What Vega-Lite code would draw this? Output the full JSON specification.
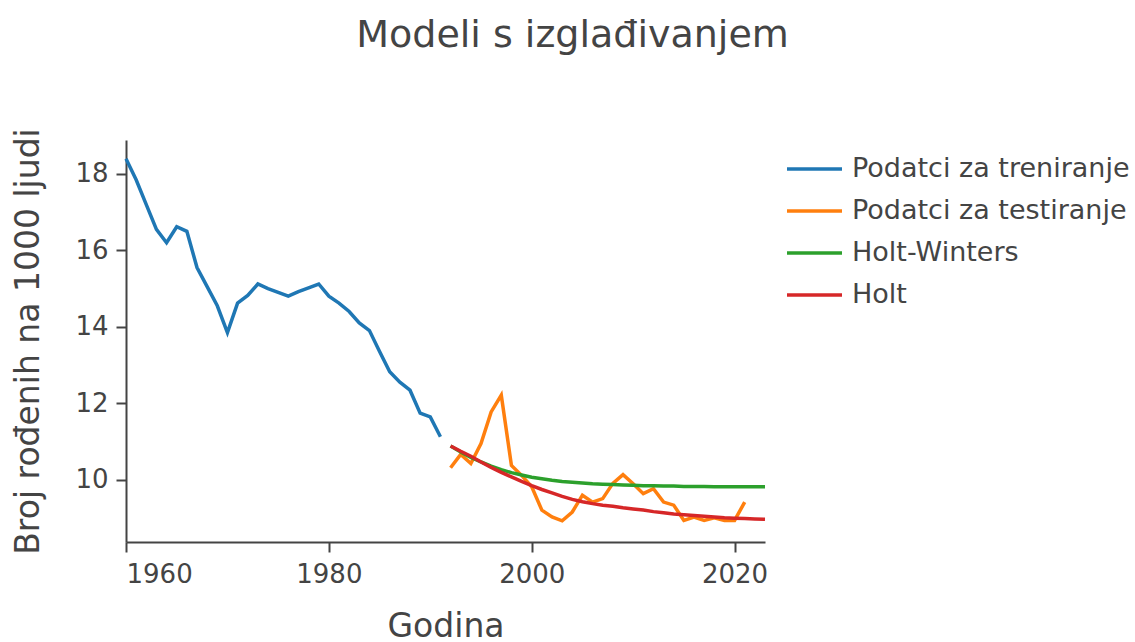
{
  "$schema": "https://vega.github.io/schema/vega-lite/v6.json",
  "width": 639,
  "height": 402,
  "autosize": {"type": "none"},
  "padding": {"left": 126, "top": 140, "right": 370, "bottom": 100},
  "background": "white",
  "title": {
    "text": "Modeli s izglađivanjem",
    "fontSize": 38,
    "font": "DejaVu Sans",
    "fontWeight": "normal",
    "color": "#444",
    "anchor": "middle",
    "dx": 127,
    "baseline": "alphabetic",
    "offset": 43
  },
  "config": {
    "view": {"stroke": null},
    "axis": {
      "grid": false,
      "domainColor": "#444",
      "domainWidth": 2,
      "tickColor": "#444",
      "tickWidth": 2,
      "tickSize": 10,
      "labelFont": "DejaVu Sans",
      "labelFontSize": 26,
      "labelColor": "#444",
      "titleFont": "DejaVu Sans",
      "titleFontSize": 33,
      "titleFontWeight": "normal",
      "titleColor": "#444"
    }
  },
  "data": {
    "values": [
      {"year": 1960, "value": 18.4, "series": "Podatci za treniranje"},
      {"year": 1961, "value": 17.85, "series": "Podatci za treniranje"},
      {"year": 1962, "value": 17.2, "series": "Podatci za treniranje"},
      {"year": 1963, "value": 16.55, "series": "Podatci za treniranje"},
      {"year": 1964, "value": 16.2, "series": "Podatci za treniranje"},
      {"year": 1965, "value": 16.62, "series": "Podatci za treniranje"},
      {"year": 1966, "value": 16.5, "series": "Podatci za treniranje"},
      {"year": 1967, "value": 15.55, "series": "Podatci za treniranje"},
      {"year": 1968, "value": 15.05, "series": "Podatci za treniranje"},
      {"year": 1969, "value": 14.55, "series": "Podatci za treniranje"},
      {"year": 1970, "value": 13.85, "series": "Podatci za treniranje"},
      {"year": 1971, "value": 14.62, "series": "Podatci za treniranje"},
      {"year": 1972, "value": 14.82, "series": "Podatci za treniranje"},
      {"year": 1973, "value": 15.12, "series": "Podatci za treniranje"},
      {"year": 1974, "value": 15.0, "series": "Podatci za treniranje"},
      {"year": 1975, "value": 14.9, "series": "Podatci za treniranje"},
      {"year": 1976, "value": 14.8, "series": "Podatci za treniranje"},
      {"year": 1977, "value": 14.92, "series": "Podatci za treniranje"},
      {"year": 1978, "value": 15.02, "series": "Podatci za treniranje"},
      {"year": 1979, "value": 15.12, "series": "Podatci za treniranje"},
      {"year": 1980, "value": 14.8, "series": "Podatci za treniranje"},
      {"year": 1981, "value": 14.62, "series": "Podatci za treniranje"},
      {"year": 1982, "value": 14.4, "series": "Podatci za treniranje"},
      {"year": 1983, "value": 14.1, "series": "Podatci za treniranje"},
      {"year": 1984, "value": 13.9, "series": "Podatci za treniranje"},
      {"year": 1985, "value": 13.35, "series": "Podatci za treniranje"},
      {"year": 1986, "value": 12.82, "series": "Podatci za treniranje"},
      {"year": 1987, "value": 12.55, "series": "Podatci za treniranje"},
      {"year": 1988, "value": 12.34, "series": "Podatci za treniranje"},
      {"year": 1989, "value": 11.74, "series": "Podatci za treniranje"},
      {"year": 1990, "value": 11.64, "series": "Podatci za treniranje"},
      {"year": 1991, "value": 11.12, "series": "Podatci za treniranje"},

      {"year": 1992, "value": 10.31, "series": "Podatci za testiranje"},
      {"year": 1993, "value": 10.66, "series": "Podatci za testiranje"},
      {"year": 1994, "value": 10.42, "series": "Podatci za testiranje"},
      {"year": 1995, "value": 10.94, "series": "Podatci za testiranje"},
      {"year": 1996, "value": 11.77, "series": "Podatci za testiranje"},
      {"year": 1997, "value": 12.21, "series": "Podatci za testiranje"},
      {"year": 1998, "value": 10.37, "series": "Podatci za testiranje"},
      {"year": 1999, "value": 10.11, "series": "Podatci za testiranje"},
      {"year": 2000, "value": 9.81, "series": "Podatci za testiranje"},
      {"year": 2001, "value": 9.2, "series": "Podatci za testiranje"},
      {"year": 2002, "value": 9.02, "series": "Podatci za testiranje"},
      {"year": 2003, "value": 8.92, "series": "Podatci za testiranje"},
      {"year": 2004, "value": 9.15, "series": "Podatci za testiranje"},
      {"year": 2005, "value": 9.59, "series": "Podatci za testiranje"},
      {"year": 2006, "value": 9.41, "series": "Podatci za testiranje"},
      {"year": 2007, "value": 9.5, "series": "Podatci za testiranje"},
      {"year": 2008, "value": 9.9, "series": "Podatci za testiranje"},
      {"year": 2009, "value": 10.13, "series": "Podatci za testiranje"},
      {"year": 2010, "value": 9.89, "series": "Podatci za testiranje"},
      {"year": 2011, "value": 9.63, "series": "Podatci za testiranje"},
      {"year": 2012, "value": 9.76, "series": "Podatci za testiranje"},
      {"year": 2013, "value": 9.41, "series": "Podatci za testiranje"},
      {"year": 2014, "value": 9.33, "series": "Podatci za testiranje"},
      {"year": 2015, "value": 8.93, "series": "Podatci za testiranje"},
      {"year": 2016, "value": 9.02, "series": "Podatci za testiranje"},
      {"year": 2017, "value": 8.93, "series": "Podatci za testiranje"},
      {"year": 2018, "value": 9.0, "series": "Podatci za testiranje"},
      {"year": 2019, "value": 8.93, "series": "Podatci za testiranje"},
      {"year": 2020, "value": 8.93, "series": "Podatci za testiranje"},
      {"year": 2021, "value": 9.41, "series": "Podatci za testiranje"},

      {"year": 1992, "value": 10.88, "series": "Holt-Winters"},
      {"year": 1993, "value": 10.72, "series": "Holt-Winters"},
      {"year": 1994, "value": 10.58, "series": "Holt-Winters"},
      {"year": 1995, "value": 10.46, "series": "Holt-Winters"},
      {"year": 1996, "value": 10.35, "series": "Holt-Winters"},
      {"year": 1997, "value": 10.26, "series": "Holt-Winters"},
      {"year": 1998, "value": 10.18, "series": "Holt-Winters"},
      {"year": 1999, "value": 10.12, "series": "Holt-Winters"},
      {"year": 2000, "value": 10.06, "series": "Holt-Winters"},
      {"year": 2001, "value": 10.02, "series": "Holt-Winters"},
      {"year": 2002, "value": 9.98, "series": "Holt-Winters"},
      {"year": 2003, "value": 9.95, "series": "Holt-Winters"},
      {"year": 2004, "value": 9.93, "series": "Holt-Winters"},
      {"year": 2005, "value": 9.91, "series": "Holt-Winters"},
      {"year": 2006, "value": 9.89, "series": "Holt-Winters"},
      {"year": 2007, "value": 9.88, "series": "Holt-Winters"},
      {"year": 2008, "value": 9.87, "series": "Holt-Winters"},
      {"year": 2009, "value": 9.86, "series": "Holt-Winters"},
      {"year": 2010, "value": 9.85, "series": "Holt-Winters"},
      {"year": 2011, "value": 9.84, "series": "Holt-Winters"},
      {"year": 2012, "value": 9.84, "series": "Holt-Winters"},
      {"year": 2013, "value": 9.83, "series": "Holt-Winters"},
      {"year": 2014, "value": 9.83, "series": "Holt-Winters"},
      {"year": 2015, "value": 9.82, "series": "Holt-Winters"},
      {"year": 2016, "value": 9.82, "series": "Holt-Winters"},
      {"year": 2017, "value": 9.82, "series": "Holt-Winters"},
      {"year": 2018, "value": 9.81, "series": "Holt-Winters"},
      {"year": 2019, "value": 9.81, "series": "Holt-Winters"},
      {"year": 2020, "value": 9.81, "series": "Holt-Winters"},
      {"year": 2021, "value": 9.81, "series": "Holt-Winters"},
      {"year": 2022, "value": 9.81, "series": "Holt-Winters"},
      {"year": 2023, "value": 9.81, "series": "Holt-Winters"},

      {"year": 1992, "value": 10.88, "series": "Holt"},
      {"year": 1993, "value": 10.74, "series": "Holt"},
      {"year": 1994, "value": 10.61, "series": "Holt"},
      {"year": 1995, "value": 10.46, "series": "Holt"},
      {"year": 1996, "value": 10.32, "series": "Holt"},
      {"year": 1997, "value": 10.19, "series": "Holt"},
      {"year": 1998, "value": 10.07, "series": "Holt"},
      {"year": 1999, "value": 9.95, "series": "Holt"},
      {"year": 2000, "value": 9.84, "series": "Holt"},
      {"year": 2001, "value": 9.74, "series": "Holt"},
      {"year": 2002, "value": 9.65, "series": "Holt"},
      {"year": 2003, "value": 9.56, "series": "Holt"},
      {"year": 2004, "value": 9.48, "series": "Holt"},
      {"year": 2005, "value": 9.42, "series": "Holt"},
      {"year": 2006, "value": 9.37, "series": "Holt"},
      {"year": 2007, "value": 9.33, "series": "Holt"},
      {"year": 2008, "value": 9.3, "series": "Holt"},
      {"year": 2009, "value": 9.26, "series": "Holt"},
      {"year": 2010, "value": 9.23, "series": "Holt"},
      {"year": 2011, "value": 9.2, "series": "Holt"},
      {"year": 2012, "value": 9.16, "series": "Holt"},
      {"year": 2013, "value": 9.13, "series": "Holt"},
      {"year": 2014, "value": 9.1, "series": "Holt"},
      {"year": 2015, "value": 9.08, "series": "Holt"},
      {"year": 2016, "value": 9.06, "series": "Holt"},
      {"year": 2017, "value": 9.04, "series": "Holt"},
      {"year": 2018, "value": 9.02, "series": "Holt"},
      {"year": 2019, "value": 9.0, "series": "Holt"},
      {"year": 2020, "value": 8.99, "series": "Holt"},
      {"year": 2021, "value": 8.98, "series": "Holt"},
      {"year": 2022, "value": 8.97, "series": "Holt"},
      {"year": 2023, "value": 8.96, "series": "Holt"}
    ]
  },
  "mark": {"type": "line", "strokeWidth": 3.5, "clip": false},
  "encoding": {
    "x": {
      "field": "year",
      "type": "quantitative",
      "scale": {"domain": [1960, 2023], "nice": false, "zero": false},
      "axis": {
        "title": "Godina",
        "values": [1960, 1980, 2000, 2020],
        "format": "d",
        "labelPadding": 9,
        "titleBaseline": "alphabetic",
        "titleY": 94
      }
    },
    "y": {
      "field": "value",
      "type": "quantitative",
      "scale": {"domain": [8.365, 18.89], "nice": false, "zero": false},
      "axis": {
        "title": "Broj rođenih na 1000 ljudi",
        "values": [10, 12, 14, 16, 18],
        "format": "d",
        "labelPadding": 8,
        "titleBaseline": "alphabetic",
        "titleX": -88
      }
    },
    "color": {
      "field": "series",
      "type": "nominal",
      "scale": {
        "domain": ["Podatci za treniranje", "Podatci za testiranje", "Holt-Winters", "Holt"],
        "range": ["#1f77b4", "#ff7f0e", "#2ca02c", "#d62728"]
      },
      "legend": {
        "title": null,
        "orient": "none",
        "legendX": 675,
        "legendY": 15.5,
        "padding": 0,
        "symbolType": "M-2.5,0H2.5",
        "symbolSize": 484,
        "symbolStrokeWidth": 3.5,
        "labelFont": "DejaVu Sans",
        "labelFontSize": 27,
        "labelColor": "#444",
        "labelOffset": 24,
        "labelLimit": 0,
        "rowPadding": 14
      }
    }
  }
}
